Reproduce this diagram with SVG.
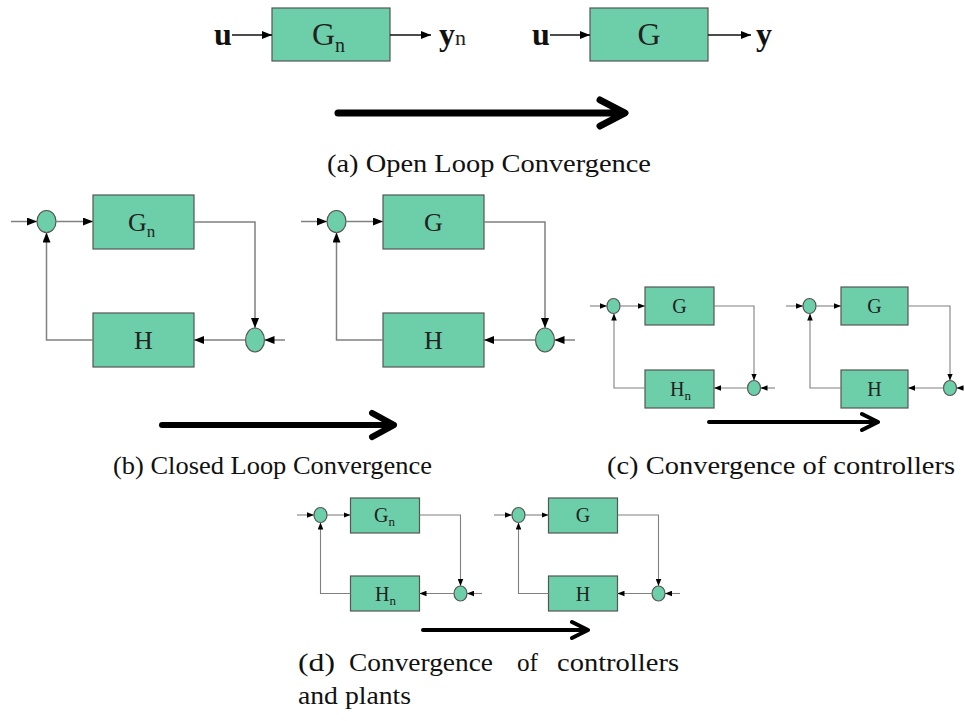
<svg xmlns="http://www.w3.org/2000/svg" width="964" height="721" viewBox="0 0 964 721">
<style>
.blk{fill:#6dcfa9;stroke:#555;stroke-width:1.2}
.sum{fill:#6dcfa9;stroke:#555;stroke-width:1.2}
.wire{fill:none;stroke:#808080;stroke-width:1.5}
.wire2{fill:none;stroke:#808080;stroke-width:1.1}
.wa{fill:none;stroke:#111;stroke-width:1.5}
.big{fill:none;stroke:#000;stroke-linecap:round;stroke-linejoin:round}
.lb{font-family:"Liberation Serif","Times New Roman",serif;fill:#222}
.lbb{font-family:"Liberation Serif","Times New Roman",serif;font-weight:bold;fill:#111}
.cap{font-family:"Liberation Serif","Times New Roman",serif;font-size:25px;fill:#111}
</style>
<defs>
<marker id="ah" viewBox="0 0 10 8" refX="10" refY="4" markerWidth="10" markerHeight="8" markerUnits="userSpaceOnUse" orient="auto"><path d="M0,0 L10,4 L0,8 z" fill="#000"/></marker>
<marker id="as" viewBox="0 0 10 8" refX="10" refY="4" markerWidth="7" markerHeight="6" markerUnits="userSpaceOnUse" orient="auto"><path d="M0,0 L10,4 L0,8 z" fill="#000"/></marker>
</defs>

<!-- Panel (a) -->
<g id="a-u1"><text class="lbb" x="214" y="45" font-size="32">u</text></g>
<g id="a-Gn"><rect class="blk" x="272" y="8" width="118" height="53"/><text class="lb" x="312" y="45" font-size="32">G<tspan font-size="20" dy="7">n</tspan></text></g>
<g id="a-yn"><text class="lbb" x="439" y="45" font-size="32">y<tspan class="lb" font-weight="normal" font-size="22">n</tspan></text></g>
<g id="a-u2"><text class="lbb" x="532" y="45" font-size="32">u</text></g>
<g id="a-G"><rect class="blk" x="590" y="8" width="118" height="53"/><text class="lb" x="649" y="45" font-size="32" text-anchor="middle">G</text></g>
<g id="a-y"><text class="lbb" x="756" y="45" font-size="32">y</text></g>

<!-- Panel (b) left -->
<g id="b1-sum1"><ellipse class="sum" cx="46.5" cy="221.5" rx="9.5" ry="11"/></g>
<g id="b1-Gn"><rect class="blk" x="93" y="195" width="101" height="54"/><text class="lb" x="128" y="231" font-size="26">G<tspan font-size="17" dy="6">n</tspan></text></g>
<g id="b1-sum2"><ellipse class="sum" cx="255" cy="340" rx="9.5" ry="12"/></g>
<g id="b1-H"><rect class="blk" x="93" y="313" width="101" height="54"/><text class="lb" x="143.5" y="349" font-size="26" text-anchor="middle">H</text></g>

<!-- Panel (b) right -->
<g id="b2-sum1"><ellipse class="sum" cx="336.5" cy="221.5" rx="9.5" ry="11"/></g>
<g id="b2-G"><rect class="blk" x="383" y="195" width="101" height="54"/><text class="lb" x="433.5" y="231" font-size="26" text-anchor="middle">G</text></g>
<g id="b2-sum2"><ellipse class="sum" cx="545" cy="340" rx="9.5" ry="12"/></g>
<g id="b2-H"><rect class="blk" x="383" y="313" width="101" height="54"/><text class="lb" x="433.5" y="349" font-size="26" text-anchor="middle">H</text></g>

<!-- Panel (c) left -->
<g id="c1-sum1"><ellipse class="sum" cx="613.5" cy="306" rx="6.5" ry="7.5"/></g>
<g id="c1-G"><rect class="blk" x="645" y="287" width="69" height="38"/><text class="lb" x="679.5" y="313" font-size="20" text-anchor="middle">G</text></g>
<g id="c1-sum2"><ellipse class="sum" cx="754" cy="388" rx="6.5" ry="7.5"/></g>
<g id="c1-Hn"><rect class="blk" x="645" y="370" width="69" height="38"/><text class="lb" x="670" y="396" font-size="20">H<tspan font-size="13" dy="4">n</tspan></text></g>

<!-- Panel (c) right -->
<g id="c2-sum1"><ellipse class="sum" cx="809.5" cy="306" rx="6.5" ry="7.5"/></g>
<g id="c2-G"><rect class="blk" x="841" y="287" width="67" height="38"/><text class="lb" x="874.5" y="313" font-size="20" text-anchor="middle">G</text></g>
<g id="c2-sum2"><ellipse class="sum" cx="950" cy="388" rx="6.5" ry="7.5"/></g>
<g id="c2-H"><rect class="blk" x="841" y="370" width="67" height="38"/><text class="lb" x="874.5" y="396" font-size="20" text-anchor="middle">H</text></g>

<!-- Panel (d) left -->
<g id="d1-sum1"><ellipse class="sum" cx="320.5" cy="515" rx="6.5" ry="7.5"/></g>
<g id="d1-Gn"><rect class="blk" x="350.5" y="498" width="69" height="35"/><text class="lb" x="374" y="522" font-size="20">G<tspan font-size="13" dy="4">n</tspan></text></g>
<g id="d1-sum2"><ellipse class="sum" cx="460.5" cy="593.5" rx="6.5" ry="7.5"/></g>
<g id="d1-Hn"><rect class="blk" x="350.5" y="576" width="69" height="35"/><text class="lb" x="375" y="601" font-size="20">H<tspan font-size="13" dy="4">n</tspan></text></g>

<!-- Panel (d) right -->
<g id="d2-sum1"><ellipse class="sum" cx="518.5" cy="515" rx="6.5" ry="7.5"/></g>
<g id="d2-G"><rect class="blk" x="548.5" y="498" width="69" height="35"/><text class="lb" x="583" y="522" font-size="20" text-anchor="middle">G</text></g>
<g id="d2-sum2"><ellipse class="sum" cx="658.5" cy="593.5" rx="6.5" ry="7.5"/></g>
<g id="d2-H"><rect class="blk" x="548.5" y="576" width="69" height="35"/><text class="lb" x="583" y="601" font-size="20" text-anchor="middle">H</text></g>

<g id="connectors">
<!-- a -->
<line class="wa" x1="232" y1="35" x2="272" y2="35" marker-end="url(#ah)"/>
<line class="wa" x1="390" y1="35" x2="431" y2="35" marker-end="url(#ah)"/>
<line class="wa" x1="550" y1="35" x2="590" y2="35" marker-end="url(#ah)"/>
<line class="wa" x1="708" y1="35" x2="751" y2="35" marker-end="url(#ah)"/>
<!-- b left -->
<line class="wire" x1="11" y1="221.5" x2="37" y2="221.5" marker-end="url(#ah)"/>
<line class="wire" x1="56" y1="221.5" x2="93" y2="221.5" marker-end="url(#ah)"/>
<path class="wire" d="M194,222 H255 V328" marker-end="url(#ah)"/>
<line class="wire" x1="285" y1="340" x2="264.5" y2="340" marker-end="url(#ah)"/>
<line class="wire" x1="245.5" y1="340" x2="194" y2="340" marker-end="url(#ah)"/>
<path class="wire" d="M93,340 H46.5 V232.5" marker-end="url(#ah)"/>
<!-- b right -->
<line class="wire" x1="301" y1="221.5" x2="327" y2="221.5" marker-end="url(#ah)"/>
<line class="wire" x1="346" y1="221.5" x2="383" y2="221.5" marker-end="url(#ah)"/>
<path class="wire" d="M484,222 H545 V328" marker-end="url(#ah)"/>
<line class="wire" x1="575" y1="340" x2="554.5" y2="340" marker-end="url(#ah)"/>
<line class="wire" x1="535.5" y1="340" x2="484" y2="340" marker-end="url(#ah)"/>
<path class="wire" d="M383,340 H336.5 V232.5" marker-end="url(#ah)"/>
<!-- c left -->
<line class="wire2" x1="590" y1="306" x2="607" y2="306" marker-end="url(#as)"/>
<line class="wire2" x1="620" y1="306" x2="645" y2="306" marker-end="url(#as)"/>
<path class="wire2" d="M714,306 H754 V380.5" marker-end="url(#as)"/>
<line class="wire2" x1="775" y1="388" x2="760.5" y2="388" marker-end="url(#as)"/>
<line class="wire2" x1="747.5" y1="388" x2="714" y2="388" marker-end="url(#as)"/>
<path class="wire2" d="M645,388 H614 V313.5" marker-end="url(#as)"/>
<!-- c right -->
<line class="wire2" x1="786" y1="306" x2="803" y2="306" marker-end="url(#as)"/>
<line class="wire2" x1="816" y1="306" x2="841" y2="306" marker-end="url(#as)"/>
<path class="wire2" d="M908,306 H950 V380.5" marker-end="url(#as)"/>
<line class="wire2" x1="966" y1="388" x2="956.5" y2="388" marker-end="url(#as)"/>
<line class="wire2" x1="943.5" y1="388" x2="908" y2="388" marker-end="url(#as)"/>
<path class="wire2" d="M841,388 H810 V313.5" marker-end="url(#as)"/>
<!-- d left -->
<line class="wire2" x1="297" y1="515" x2="314" y2="515" marker-end="url(#as)"/>
<line class="wire2" x1="327" y1="515" x2="350.5" y2="515" marker-end="url(#as)"/>
<path class="wire2" d="M419.5,515 H460.5 V586" marker-end="url(#as)"/>
<line class="wire2" x1="482" y1="593.5" x2="467" y2="593.5" marker-end="url(#as)"/>
<line class="wire2" x1="454" y1="593.5" x2="419.5" y2="593.5" marker-end="url(#as)"/>
<path class="wire2" d="M350.5,593.5 H320.5 V522.5" marker-end="url(#as)"/>
<!-- d right -->
<line class="wire2" x1="494" y1="515" x2="512" y2="515" marker-end="url(#as)"/>
<line class="wire2" x1="525" y1="515" x2="548.5" y2="515" marker-end="url(#as)"/>
<path class="wire2" d="M617.5,515 H658.5 V586" marker-end="url(#as)"/>
<line class="wire2" x1="680" y1="593.5" x2="665" y2="593.5" marker-end="url(#as)"/>
<line class="wire2" x1="652" y1="593.5" x2="617.5" y2="593.5" marker-end="url(#as)"/>
<path class="wire2" d="M548.5,593.5 H518.5 V522.5" marker-end="url(#as)"/>
<!-- big convergence arrows -->
<path class="big" stroke-width="7" d="M338,113 H624 M600,100 L625,113 L600,126"/>
<path class="big" stroke-width="6" d="M162,425 H393 M372,413 L394,425 L372,437"/>
<path class="big" stroke-width="4" d="M709,422 H877 M862,414 L878,422 L862,430"/>
<path class="big" stroke-width="4" d="M423,630 H587 M572,622 L588,630 L572,638"/>
</g>

<g id="captions">
<text class="cap" x="327" y="172" textLength="324" lengthAdjust="spacingAndGlyphs">(a) Open Loop Convergence</text>
<text class="cap" x="113" y="474" textLength="319" lengthAdjust="spacingAndGlyphs">(b) Closed Loop Convergence</text>
<text class="cap" x="607" y="474" textLength="348" lengthAdjust="spacingAndGlyphs">(c) Convergence of controllers</text>
<text class="cap" x="298" y="671" textLength="37" lengthAdjust="spacingAndGlyphs">(d)</text>
<text class="cap" x="349" y="671" textLength="144" lengthAdjust="spacingAndGlyphs">Convergence</text>
<text class="cap" x="517" y="671" textLength="21" lengthAdjust="spacingAndGlyphs">of</text>
<text class="cap" x="557" y="671" textLength="122" lengthAdjust="spacingAndGlyphs">controllers</text>
<text class="cap" x="298" y="704" textLength="113" lengthAdjust="spacingAndGlyphs">and plants</text>
</g>
</svg>
